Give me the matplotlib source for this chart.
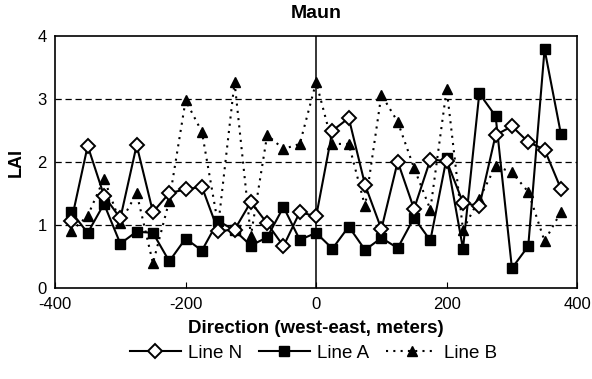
import numpy as np
import matplotlib.pyplot as plt

plt.rcParams['font.family'] = ['Liberation Sans', 'DejaVu Sans']
plt.rcParams['axes.unicode_minus'] = False

x = np.arange(-375, 376, 25)

line_n = [1.07, 2.26, 1.47, 1.11, 2.27, 1.21, 1.51, 1.57, 1.61, 0.91,
          0.93, 1.37, 1.03, 0.67, 1.21, 1.14, 2.50, 2.70, 1.64, 0.94,
          2.01, 1.26, 2.04, 2.02, 1.36, 1.30, 2.43, 2.57, 2.32, 2.20, 1.58]
line_a = [1.21, 0.88, 1.34, 0.71, 0.90, 0.88, 0.43, 0.79, 0.60, 1.07,
          0.92, 0.68, 0.81, 1.29, 0.77, 0.88, 0.63, 0.98, 0.61, 0.80,
          0.64, 1.12, 0.76, 2.07, 0.63, 3.09, 2.73, 0.32, 0.67, 3.79, 2.45]
line_b = [0.91, 1.15, 1.74, 1.04, 1.51, 0.40, 1.39, 2.98, 2.48, 1.00,
          3.27, 0.83, 2.43, 2.21, 2.29, 3.27, 2.29, 2.29, 1.30, 3.07,
          2.64, 1.91, 1.25, 3.16, 0.93, 1.42, 1.94, 1.84, 1.53, 0.75, 1.21]

fig = plt.figure(figsize=(5.92, 3.79), dpi=100)
ax = fig.add_axes([0.093, 0.239, 0.882, 0.666])

for g in [1, 2, 3]:
    ax.axhline(g, color='black', lw=0.9, ls=(0, (5, 3)), zorder=1)
ax.axvline(0, color='black', lw=1.1, zorder=1)

ax.plot(x, line_n, color='black', lw=1.5, marker='D', ms=7, mfc='white',
        mec='black', mew=1.4, label='Line N', zorder=4)
ax.plot(x, line_a, color='black', lw=1.5, marker='s', ms=7, mfc='black',
        mec='black', label='Line A', zorder=3)
ax.plot(x, line_b, color='black', lw=1.5, ls=(0, (1, 2.5)), marker='^', ms=7.5,
        mfc='black', mec='black', label='Line B', zorder=2)

ax.set_xlim(-400, 400)
ax.set_ylim(0, 4)
ax.set_xticks([-400, -200, 0, 200, 400])
ax.set_yticks([0, 1, 2, 3, 4])
ax.tick_params(direction='in', length=4, labelsize=12)
ax.tick_params(axis='x', pad=6)
ax.tick_params(axis='y', length=0, pad=6)
for s in ax.spines.values():
    s.set_linewidth(1.2)

ax.set_title('Maun', fontsize=14, fontweight='bold', pad=13)
ax.set_ylabel('LAI', fontsize=13, fontweight='bold', labelpad=9)
ax.set_xlabel('Direction (west-east, meters)', fontsize=13.5, fontweight='bold', labelpad=6)

fig.legend(loc='center', bbox_to_anchor=(0.53, 0.068), ncol=3, frameon=False,
           fontsize=13.5, handlelength=2.7, columnspacing=0.9, handletextpad=0.4)

fig.savefig('out.png', dpi=100)
